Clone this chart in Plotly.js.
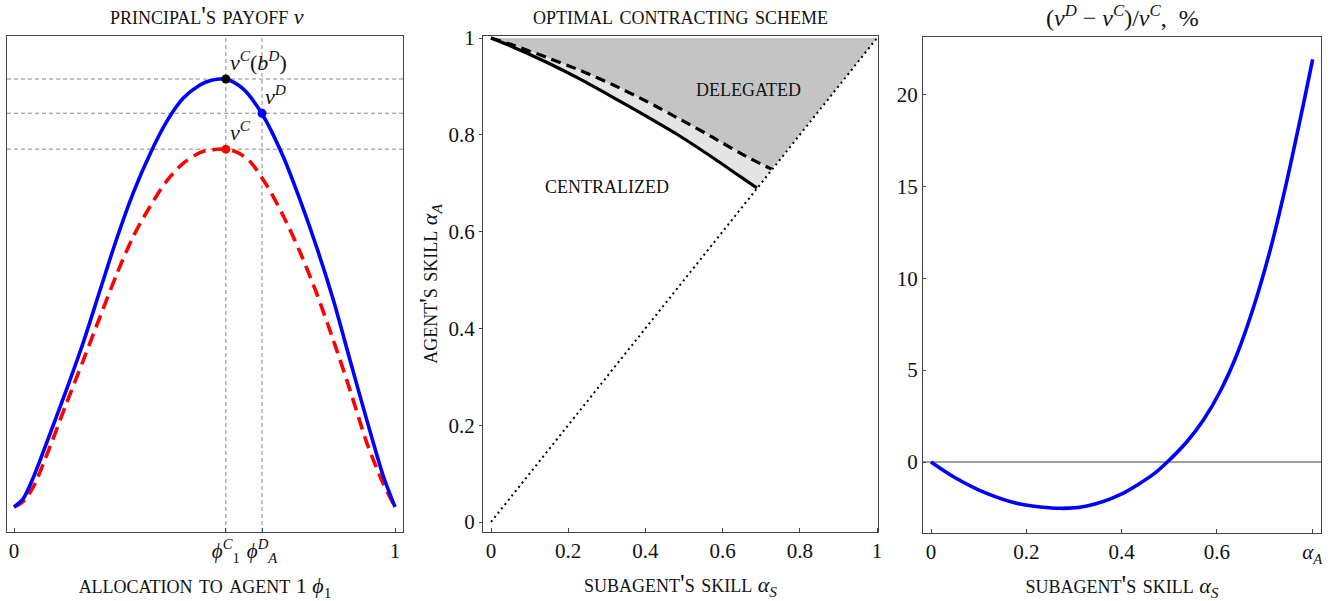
<!DOCTYPE html>
<html>
<head>
<meta charset="utf-8">
<script src="https://cdn.plot.ly/plotly-3.0.1.min.js"></script>
<style>html,body{margin:0;padding:0;background:#fff}#chart{width:1340px;height:601px}</style>
</head>
<body>
<div id="chart"></div>
<script>
// ---------- Panel 1: principal's payoff ----------
const phiBlue = [0, 0.024, 0.0507, 0.0945, 0.138, 0.182, 0.226, 0.270, 0.313, 0.357, 0.401, 0.444, 0.488, 0.514, 0.556, 0.600, 0.650, 0.707, 0.751, 0.794, 0.838, 0.882, 0.926, 0.969, 1.0];
const vBlue   = [0, 0.019, 0.069, 0.171, 0.275, 0.385, 0.507, 0.628, 0.734, 0.825, 0.901, 0.955, 0.986, 0.996, 1.0, 0.978, 0.920, 0.818, 0.717, 0.608, 0.484, 0.343, 0.203, 0.073, 0];
const phiRed  = [0, 0.024, 0.0507, 0.0945, 0.138, 0.182, 0.226, 0.270, 0.313, 0.357, 0.401, 0.444, 0.488, 0.514, 0.556, 0.590, 0.619, 0.663, 0.707, 0.751, 0.794, 0.838, 0.882, 0.926, 0.969, 1.0];
const vRed    = [0, 0.013, 0.047, 0.141, 0.243, 0.343, 0.445, 0.545, 0.632, 0.702, 0.762, 0.803, 0.828, 0.834, 0.836, 0.827, 0.808, 0.752, 0.680, 0.595, 0.500, 0.390, 0.273, 0.150, 0.055, 0];
const phi1C = 0.556;
const phiAD = 0.651;
const vCbD = 1.0;   // v^C(b^D)
const vD   = 0.920; // v^D
const vC   = 0.836; // v^C
const x1TickVals = [0, phi1C, phiAD, 1];
const x1TickText = ['0', '<i>ϕ</i><sup><i>C</i></sup><sub>1</sub>', '<i>ϕ</i><sup><i>D</i></sup><sub><i>A</i></sub>', '1'];

// ---------- Panel 2: optimal contracting scheme ----------
const solidS = [0, 0.058, 0.144, 0.231, 0.317, 0.403, 0.490, 0.576, 0.645, 0.689];
const solidA = [1, 0.981, 0.950, 0.915, 0.877, 0.838, 0.797, 0.752, 0.714, 0.690];
const dashS  = [0, 0.058, 0.144, 0.231, 0.317, 0.403, 0.490, 0.576, 0.662, 0.727];
const dashA  = [1, 0.985, 0.960, 0.933, 0.903, 0.869, 0.832, 0.794, 0.755, 0.729];
const diagS = [0, 1];
const diagA = [0, 1];
const unitTicks = [0, 0.2, 0.4, 0.6, 0.8, 1];
const unitTickText = ['0', '0.2', '0.4', '0.6', '0.8', '1'];

// ---------- Panel 3: relative gain ----------
const gainS   = [0, 0.047, 0.117, 0.187, 0.271, 0.327, 0.397, 0.467, 0.496, 0.537, 0.572, 0.607, 0.642, 0.676, 0.711, 0.746, 0.781, 0.801];
const gainPct = [0, -0.80, -1.71, -2.29, -2.52, -2.40, -1.78, -0.66, 0, 1.10, 2.30, 3.85, 5.85, 8.35, 11.45, 15.2, 19.4, 21.9];
const x3TickVals = [0, 0.2, 0.4, 0.6, 0.8];
const x3TickText = ['0', '0.2', '0.4', '0.6', '<i>α</i><sub><i>A</i></sub>'];
const y3TickVals = [0, 5, 10, 15, 20];

// ---------- traces ----------
const darkPolyS = dashS.concat([1, 0]);
const darkPolyA = dashA.concat([1, 1]);
const lightPolyS = solidS.concat(dashS.slice().reverse());
const lightPolyA = solidA.concat(dashA.slice().reverse());

const traces = [
  {x: phiRed, y: vRed, xaxis: 'x', yaxis: 'y', mode: 'lines', line: {color: '#ff0000', width: 3.6, dash: '13px,7px', shape: 'spline', smoothing: 0.8}},
  {x: phiBlue, y: vBlue, xaxis: 'x', yaxis: 'y', mode: 'lines', line: {color: '#0000ff', width: 3.6, shape: 'spline', smoothing: 0.8}},
  {x: [phi1C], y: [vCbD], xaxis: 'x', yaxis: 'y', mode: 'markers', marker: {color: '#000', size: 9}},
  {x: [phiAD], y: [vD], xaxis: 'x', yaxis: 'y', mode: 'markers', marker: {color: '#0000ff', size: 9}},
  {x: [phi1C], y: [vC], xaxis: 'x', yaxis: 'y', mode: 'markers', marker: {color: '#ff0000', size: 9}},

  {x: darkPolyS, y: darkPolyA, xaxis: 'x2', yaxis: 'y2', mode: 'lines', fill: 'toself', fillcolor: '#c4c4c4', line: {width: 0}},
  {x: lightPolyS, y: lightPolyA, xaxis: 'x2', yaxis: 'y2', mode: 'lines', fill: 'toself', fillcolor: '#e4e4e4', line: {width: 0}},
  {x: diagS, y: diagA, xaxis: 'x2', yaxis: 'y2', mode: 'lines', line: {color: '#000', width: 2, dash: '2px,3.5px'}},
  {x: solidS, y: solidA, xaxis: 'x2', yaxis: 'y2', mode: 'lines', line: {color: '#000', width: 3.2, shape: 'spline', smoothing: 0.7}},
  {x: dashS, y: dashA, xaxis: 'x2', yaxis: 'y2', mode: 'lines', line: {color: '#000', width: 3.2, dash: '10px,6px', shape: 'spline', smoothing: 0.7}},

  {x: gainS, y: gainPct, xaxis: 'x3', yaxis: 'y3', mode: 'lines', line: {color: '#0000ff', width: 3.6, shape: 'spline', smoothing: 0.8}}
];

const FONT = 'Liberation Serif, Times New Roman, serif';
const baseAxis = {
  showgrid: false, zeroline: false, showline: true, mirror: true,
  linecolor: '#444', linewidth: 1, ticklen: 4, tickcolor: '#444',
  tickfont: {family: FONT, size: 21, color: '#111'}
};
function ax(o) { return Object.assign({}, baseAxis, o); }
function sc(t, size) { return '<span style="font-variant:small-caps;font-size:' + size + 'px">' + t + '</span>'; }

const refShapes = [];
[vCbD, vD, vC].forEach(v => refShapes.push({type: 'line', xref: 'x domain', yref: 'y', x0: 0, x1: 1, y0: v, y1: v, line: {color: '#8a8a8a', width: 1, dash: '4px,3px'}, layer: 'below'}));
[phi1C, phiAD].forEach(p => refShapes.push({type: 'line', xref: 'x', yref: 'y domain', x0: p, x1: p, y0: 0, y1: 1, line: {color: '#8a8a8a', width: 1, dash: '4px,3px'}, layer: 'below'}));

const layout = {
  width: 1340, height: 601,
  margin: {l: 0, r: 0, t: 0, b: 0},
  paper_bgcolor: '#fff', plot_bgcolor: '#fff',
  showlegend: false,
  font: {family: FONT, size: 21, color: '#111'},
  xaxis: ax({domain: [7/1340, 403/1340], range: [-7/381, 389/381], tickvals: x1TickVals, ticktext: x1TickText, ticks: 'inside',
    title: {text: sc('allocation to agent', 26) + ' 1 <i>ϕ</i><sub>1</sub>', font: {family: FONT, size: 22}, standoff: 14}}),
  yaxis: ax({domain: [1-532/601, 1-36/601], range: [-25/428, 471/428], showticklabels: false, ticks: ''}),
  xaxis2: ax({domain: [483/1340, 878/1340], range: [-8/386, 387/386], tickvals: unitTicks, ticktext: unitTickText, ticks: 'inside', anchor: 'y2',
    title: {text: sc("subagent's skill", 26) + ' <i>α</i><sub><i>S</i></sub>', font: {family: FONT, size: 22}, standoff: 14}}),
  yaxis2: ax({domain: [1-532/601, 1-36/601], range: [-10/484, 486/484], tickvals: unitTicks, ticktext: unitTickText, ticks: 'outside', ticklen: 3, anchor: 'x2',
    title: {text: sc("agent's skill", 26) + ' <i>α</i><sub><i>A</i></sub>', font: {family: FONT, size: 22}, standoff: 4}}),
  xaxis3: ax({domain: [923/1340, 1321/1340], range: [-8/476.5, 390/476.5], tickvals: x3TickVals, ticktext: x3TickText, ticks: 'inside', anchor: 'y3',
    title: {text: sc("subagent's skill", 26) + ' <i>α</i><sub><i>S</i></sub>', font: {family: FONT, size: 22}, standoff: 14}}),
  yaxis3: ax({domain: [1-533/601, 1-37/601], range: [-71/18.38, 425/18.38], tickvals: y3TickVals, ticktext: y3TickVals.map(String), ticks: 'inside', ticklen: 3, anchor: 'x3',
    zeroline: true, zerolinecolor: '#a0a0a0', zerolinewidth: 1.5}),
  shapes: refShapes,
  annotations: [
    {xref: 'paper', yref: 'paper', x: 207/1340, y: 1-16/601, text: sc("principal's payoff", 26) + ' <i>v</i>', showarrow: false, font: {family: FONT, size: 22}, xanchor: 'center', yanchor: 'middle'},
    {xref: 'paper', yref: 'paper', x: 681/1340, y: 1-16/601, text: sc('optimal contracting scheme', 26), showarrow: false, font: {family: FONT, size: 22}, xanchor: 'center', yanchor: 'middle'},
    {xref: 'paper', yref: 'paper', x: 1122/1340, y: 1-16/601, text: '(<i>v</i><sup><i>D</i></sup> − <i>v</i><sup><i>C</i></sup>)/<i>v</i><sup><i>C</i></sup>,  %', showarrow: false, font: {family: FONT, size: 24}, xanchor: 'center', yanchor: 'middle'},
    {xref: 'x', yref: 'y', x: phi1C, y: vCbD, text: '<i>v</i><sup><i>C</i></sup>(<i>b</i><sup><i>D</i></sup>)', showarrow: false, xanchor: 'left', yanchor: 'bottom', xshift: 2, yshift: 2, font: {family: FONT, size: 22}},
    {xref: 'x', yref: 'y', x: phiAD, y: vD, text: '<i>v</i><sup><i>D</i></sup>', showarrow: false, xanchor: 'left', yanchor: 'bottom', xshift: 1, yshift: 2, font: {family: FONT, size: 22}},
    {xref: 'x', yref: 'y', x: phi1C, y: vC, text: '<i>v</i><sup><i>C</i></sup>', showarrow: false, xanchor: 'left', yanchor: 'bottom', xshift: 2, yshift: 2, font: {family: FONT, size: 22}},
    {xref: 'x2', yref: 'y2', x: 0.668, y: 0.897, text: sc('delegated', 26), showarrow: false, font: {family: FONT, size: 20}},
    {xref: 'x2', yref: 'y2', x: 0.30, y: 0.698, text: sc('centralized', 26), showarrow: false, font: {family: FONT, size: 20}}
  ]
};

Plotly.newPlot('chart', traces, layout, {displayModeBar: false, staticPlot: true});
</script>
</body>
</html>
